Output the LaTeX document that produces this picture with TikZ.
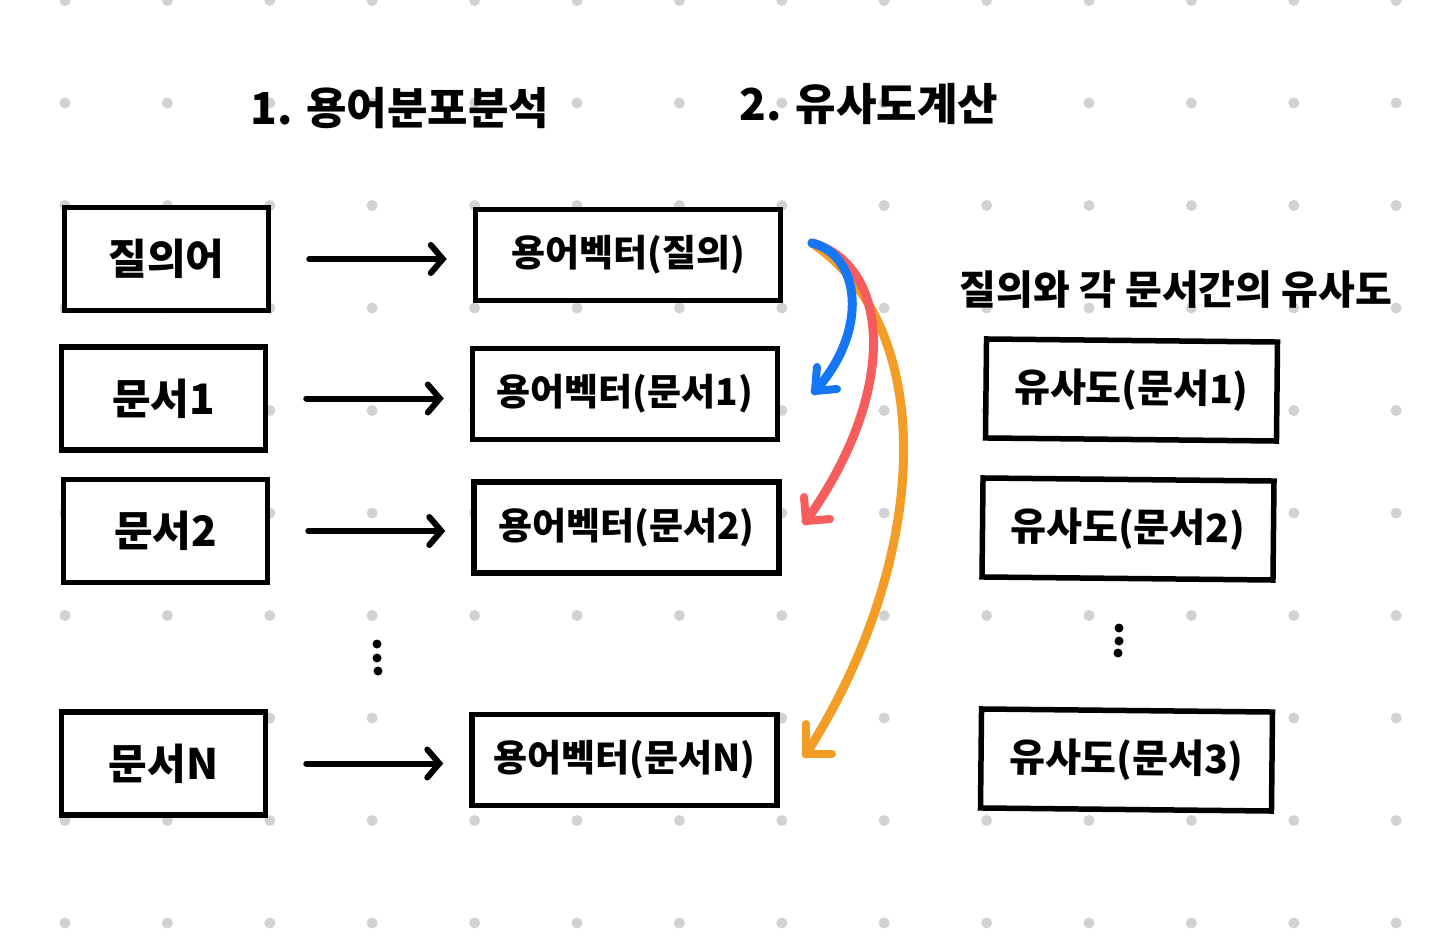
\documentclass[tikz,border=0pt]{standalone}
\usepackage{fontspec}
\newfontfamily\kr{Noto Sans CJK KR}
\usetikzlibrary{arrows.meta}
\definecolor{gdot}{HTML}{D2D2D2}
\definecolor{cblue}{HTML}{1577F5}
\definecolor{cred}{HTML}{F75D5D}
\definecolor{corange}{HTML}{F39C26}
\tikzset{
  box/.style={draw=black, line width=5.5pt, rectangle, inner sep=0pt, fill=white},
  lbox/.style={box, minimum width=204pt, minimum height=103pt, font=\kr\bfseries\fontsize{42}{50}\selectfont},
  vbox/.style={box, minimum width=305pt, minimum height=91pt, font=\kr\bfseries\fontsize{37}{44}\selectfont},
  sbox/.style={box, minimum width=291pt, minimum height=99pt, font=\kr\bfseries\fontsize{39}{46}\selectfont},
  ttl/.style={font=\kr\bfseries\fontsize{44}{52}\selectfont, inner sep=0pt},
  sub/.style={font=\kr\bfseries\fontsize{40}{48}\selectfont, inner sep=0pt},
  arr/.style={line width=6pt, line cap=round, -{Straight Barb[length=12pt,width=28pt,line cap=round]}},
  cline/.style={line width=9pt, line cap=round},
  ctip/.style={line width=8pt, line cap=round, line join=round},
  vdot/.style={fill=black, draw=none, circle, minimum size=9pt, inner sep=0pt}
}
\begin{document}
\begin{tikzpicture}[x=1pt,y=-1pt]
\useasboundingbox (0,0) rectangle (1440,949);
\fill[white] (0,0) rectangle (1440,949);
% dot grid
\foreach \i in {0,...,13} {
  \foreach \j in {0,...,9} {
    \fill[gdot] (65+102.4*\i, 0.5+102.5*\j) circle (5.5);
  }
}
% titles
\node[ttl] (t1) at (400,108) {1. 용어분포분석};
\node[ttl] (t2) at (869,104) {2. 유사도계산};
\node[sub] (t3) at (1176,290) {질의와 각 문서간의 유사도};
% left boxes
\node[lbox] (q)  at (166.5,259) {질의어};
\node[lbox] (d1) at (163.5,398.5) {문서1};
\node[lbox] (d2) at (165.5,531) {문서2};
\node[lbox] (dn) at (163.5,763.5) {문서N};
% vector boxes
\node[vbox] (vq) at (628,255) {용어벡터(질의)};
\node[vbox] (v1) at (625,394) {용어벡터(문서1)};
\node[vbox] (v2) at (626.5,527.5) {용어벡터(문서2)};
\node[vbox] (vn) at (624.5,760) {용어벡터(문서N)};
% similarity boxes
\node[sbox, rotate=-0.6] (s1) at (1131.5,390) {유사도(문서1)};
\node[sbox, rotate=-0.6] (s2) at (1128,529) {유사도(문서2)};
\node[sbox, rotate=-0.6] (s3) at (1126.5,760) {유사도(문서3)};
% black arrows
\draw[arr, shorten <=38pt, shorten >=26pt] (q.east |- 0,259) -- (vq.west |- 0,259);
\draw[arr, shorten <=38pt, shorten >=26pt] (d1.east) -- (v1.west |- d1.east);
\draw[arr, shorten <=38pt, shorten >=26pt] (d2.east) -- (v2.west |- d2.east);
\draw[arr, shorten <=38pt, shorten >=26pt] (dn.east) -- (vn.west |- dn.east);
% vertical dots
\node[vdot] (a1) at (377,644) {};
\node[vdot] (a2) at (377,658) {};
\node[vdot] (a3) at (378,671) {};
\node[vdot] (b1) at (1119,628) {};
\node[vdot] (b2) at (1119,641) {};
\node[vdot] (b3) at (1118,653) {};
% coloured curves (lines, then hand-drawn barbs)
\coordinate (cs) at (812,243);
\coordinate (eb) at (815,391);
\coordinate (er) at (806,521);
\coordinate (eo) at (806,754);
\draw[cline, corange] (cs) .. controls (940,330) and (930,560) .. (eo);
\draw[ctip, corange] ([shift={(0,-30)}]eo) -- (eo) -- ([shift={(26,0)}]eo);
\draw[cline, cred] (cs) .. controls (890,265) and (900,390) .. (er);
\draw[ctip, cred] ([shift={(-2,-24)}]er) -- (er) -- ([shift={(24,-2)}]er);
\draw[cline, cblue] (cs) .. controls (860,255) and (870,330) .. (eb);
\draw[ctip, cblue] ([shift={(2,-24)}]eb) -- (eb) -- ([shift={(22,-2)}]eb);
\end{tikzpicture}
\end{document}
